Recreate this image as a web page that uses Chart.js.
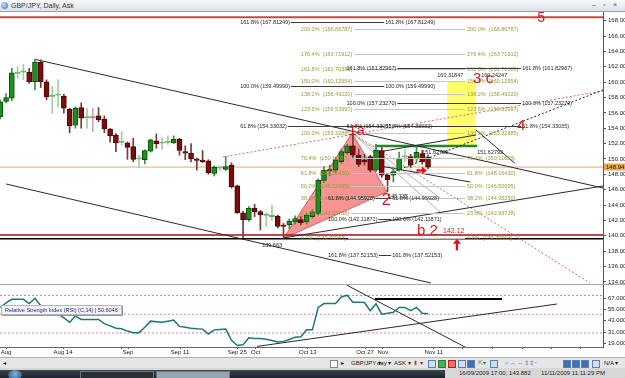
<!DOCTYPE html>
<html>
<head>
<meta charset="utf-8">
<script src="https://cdn.jsdelivr.net/npm/chart.js@4.4.0/dist/chart.umd.min.js"></script>
<style>
  body { margin: 0; background: #fff; }
  #wrap { position: relative; width: 625px; height: 378px; overflow: hidden; background: #fff; font-family: "Liberation Sans", Arial, sans-serif; }
  #titlebar { position: absolute; left: 0; top: 0; width: 625px; height: 11px; background: linear-gradient(#f8fafc, #dce1e8); border-bottom: 1px solid #9aa0a8; }
  #titlebar .icon { position: absolute; left: 1px; top: 2px; width: 7px; height: 7px; border-radius: 50%; background: radial-gradient(circle at 35% 35%, #bfe0ff, #2f74c0); }
  #titlebar .txt { position: absolute; left: 11px; top: 1px; font-size: 7px; line-height: 9px; color: #333; }
  #titlebar .btn { position: absolute; top: 0px; font-size: 7px; line-height: 9px; color: #555; }
  canvas { position: absolute; left: 0; }
  #sep { position: absolute; left: 0; top: 284px; width: 625px; height: 1px; background: #a8a8a8; }
  #rsiLabel { position: absolute; left: 1px; top: 305px; height: 8px; line-height: 8px; padding: 0 3px; font-size: 5.5px; color: #25259a; background: #f3f3f3; border: 1px solid #b5b5b5; box-shadow: 1px 1px 0 #999; white-space: nowrap; }
  #toolbar { position: absolute; left: 0; top: 357px; width: 625px; height: 11px; background: #e6e6e6; border-top: 1px solid #b0b0b0; font-size: 6px; color: #222; }
  #toolbar span { position: absolute; top: 2px; line-height: 7px; white-space: nowrap; }
  #toolbar .ic { width: 6px; height: 6px; top: 2px; border: 1px solid #5a7fb0; background: #cfe0f5; }
  #status { position: absolute; left: 0; top: 368px; width: 625px; height: 10px; background: #d7d7d7; font-size: 6px; color: #222; }
  #status .task { position: absolute; left: 0; top: 2px; width: 445px; height: 8px; background: linear-gradient(#3a4654, #1b232c); }
  #status .orb { position: absolute; left: 8px; top: 0px; width: 14px; height: 10px; border-radius: 50%; background: radial-gradient(circle at 50% 40%, #7fb2e0, #21476e); }
  #status .box { position: absolute; top: 1px; height: 6px; border: 1px solid #6b7785; }
  #status span { position: absolute; top: 2px; line-height: 7px; white-space: nowrap; }
</style>
</head>
<body>
<div id="wrap">
  <div id="titlebar">
    <div class="icon"></div>
    <div class="txt">GBP/JPY, Daily, Ask</div>
    <div class="btn" style="left:592px">–</div>
    <div class="btn" style="left:603px">▫</div>
    <div class="btn" style="left:613px">×</div>
  </div>
  <canvas id="main" width="625" height="272" style="top:12px"></canvas>
  <div id="sep"></div>
  <canvas id="rsi" width="625" height="72" style="top:285px"></canvas>
  <div id="rsiLabel">Relative Strength Index (RSI) (C,14) | 50.6046</div>
  <div id="toolbar">
    <span style="left:3px">◂</span>
    <span style="left:330px;width:6px;height:6px;background:#fff;border:1px solid #888"></span>
    <span style="left:341px">▸</span>
    <span style="left:351px">GBP/JPY ▾</span>
    <span style="left:377px">day ▾</span>
    <span style="left:394px">ASK ▾</span>
    <span style="left:413px;color:#d02020">⬍ ▾</span>
    <span class="ic" style="left:428px"></span>
    <span class="ic" style="left:438px;background:#4caf50;border-color:#2e7d32"></span>
    <span class="ic" style="left:448px;background:#e57373;border-color:#b71c1c"></span>
    <span class="ic" style="left:458px"></span>
    <span class="ic" style="left:467px;background:#3f6fb5"></span>
    <span style="left:478px;color:#2e7d32">⇱▾</span>
    <span class="ic" style="left:490px"></span>
    <span style="left:505px;color:#2a5fa8">⌕ ↔ ↔ ⇕ ⇕ ⌁</span>
    <span class="ic" style="left:563px;background:#3f6fb5"></span>
    <span class="ic" style="left:572px;background:#3f6fb5"></span>
    <span class="ic" style="left:581px;background:#3f6fb5"></span>
    <span class="ic" style="left:592px"></span>
    <span style="left:604px">N/A ▾</span>
  </div>
  <div id="status">
    <div class="task">
      <div class="orb"></div>
      <div class="box" style="left:80px;width:72px;background:#2a2f36"></div>
      <div class="box" style="left:156px;width:72px;background:#9aa4ae"></div>
    </div>
    <span style="left:459px">16/09/2009 17:00, 143.882</span>
    <span style="left:541px">11/11/2009 11:11:29 PM</span>
  </div>
</div>

<script>
// daily candles, bar 0 = Jul 30 ... bar 74 = Nov 11
const opens  = [155.5, 157.5, 157.9, 161.15, 161.3, 161.3, 160.05, 162.6, 160.05, 158.15,
                158.3, 158.2, 156.45, 154.4, 156.7, 155.35, 155.45, 155.6, 155.2, 153.9,
                153.1, 152.15, 152.1, 151.6, 150.0, 149.9, 151.0, 152.35, 152.05, 152.15,
                152.1, 152.6, 150.95, 150.75, 150.0, 149.85, 149.75, 148.1, 148.8, 148.65,
                149.2, 146.5, 143.0, 142.1, 143.6, 143.15, 142.65, 142.5, 142.55, 141.4,
                141.4, 141.8, 142.1, 141.8, 142.5, 142.9, 147.2, 148.45, 148.55, 149.65,
                150.8, 151.7, 150.5, 149.9, 150.3, 148.55, 151.1, 147.9, 147.9, 148.55,
                150.25, 150.3, 150.0, 150.7, 150.2];
const highs  = [157.7, 158.5, 161.8, 162.0, 162.3, 161.8, 163.0, 162.9, 160.3, 159.4,
                160.3, 158.4, 156.6, 156.8, 157.3, 156.6, 156.6, 156.7, 155.6, 154.0,
                153.3, 153.55, 152.2, 152.7, 150.5, 151.2, 152.6, 153.25, 152.75, 153.0,
                153.0, 152.7, 151.7, 152.0, 150.1, 151.1, 149.9, 149.1, 149.1, 150.3,
                149.5, 146.6, 143.2, 143.8, 144.1, 143.3, 143.0, 144.0, 142.7, 141.6,
                142.2, 142.6, 142.5, 142.9, 143.4, 147.4, 149.0, 149.2, 150.2, 151.3,
                151.9, 153.33, 151.3, 150.6, 150.5, 151.9, 151.5, 148.1, 148.9, 150.9,
                151.2, 150.6, 151.63, 151.1, 150.5];
const lows   = [155.2, 157.3, 157.6, 160.5, 160.3, 159.85, 159.0, 159.3, 157.7, 155.95,
                156.8, 155.95, 153.4, 154.0, 154.0, 154.0, 153.55, 154.85, 153.4, 152.2,
                150.95, 151.8, 149.95, 149.65, 148.9, 149.35, 150.9, 151.4, 151.25, 151.9,
                152.0, 150.5, 149.9, 149.6, 148.55, 149.5, 148.0, 147.8, 148.5, 148.5,
                146.2, 142.9, 139.75, 141.9, 142.5, 140.75, 141.2, 142.0, 141.0, 139.66,
                140.9, 141.5, 141.4, 141.5, 142.3, 142.7, 146.9, 147.8, 148.2, 149.4,
                150.6, 150.0, 149.0, 149.2, 148.3, 148.3, 147.6, 145.75, 147.0, 148.4,
                149.6, 148.9, 149.5, 149.3, 148.7];
const closes = [157.45, 158.0, 161.2, 161.25, 161.4, 160.05, 162.6, 160.05, 158.1, 158.25,
                158.4, 156.6, 154.3, 156.6, 155.3, 155.45, 155.35, 155.1, 153.9, 153.0,
                152.1, 152.25, 151.5, 149.95, 150.1, 151.1, 152.5, 152.0, 152.15, 152.25,
                152.55, 151.1, 150.75, 150.0, 149.8, 149.65, 148.2, 148.9, 148.9, 149.0,
                146.4, 143.0, 142.1, 143.6, 143.15, 142.7, 142.75, 142.6, 141.2, 141.2,
                141.9, 142.25, 141.7, 142.7, 143.1, 147.2, 148.55, 148.6, 149.9, 150.95,
                151.7, 150.5, 149.3, 149.6, 148.55, 151.15, 147.9, 147.3, 148.35, 150.1,
                150.35, 149.2, 150.85, 149.6, 148.94];
const rsiValues = [57.3, 62, 65.9, 65.9, 65.9, 61.4, 67, 59, 55, 53,
                   50.3, 46, 41.4, 48, 44.4, 44.4, 44.4, 44.4, 40, 37.5,
                   35.1, 34.4, 32, 30.3, 30.3, 36, 42.6, 42, 41.4, 42.5,
                   43.7, 37, 36, 35.1, 34.5, 34.1, 28.9, 33.3, 33.8, 34.1,
                   22.2, 16.6, 17.3, 24.8, 24.2, 24, 23.3, 22, 20.3, 21,
                   23, 25.5, 25.9, 33.3, 33.3, 57.3, 61.4, 61.4, 61.4, 68.4,
                   70.3, 62.9, 62.9, 62.5, 53.7, 61.1, 50, 51, 52, 57.3,
                   57.3, 53.7, 57.3, 51.1, 50.6];

const priceTicks = [134, 136, 138, 140, 142, 144, 146, 148, 150, 152, 154, 156, 158, 160, 162, 164, 166, 168];
const rsiTicks = [19, 31, 43, 55, 67];
const rsiLevels = [70, 50, 30];
const dateTickBars = [1.0, 10.85, 20.9, 22.1, 31.1, 41.0, 44.2, 53.2, 63.1, 66.2, 75.0, 80.0, 85.2, 90.3, 95.3, 100.3];
const dateTickLabels = ['Aug', 'Aug 14', '', 'Sep', 'Sep 11', 'Sep 25', 'Oct', 'Oct 13', 'Oct 27', 'Nov', 'Nov 11', '', '', '', '', ''];
const currentPrice = 148.94;

// fibonacci retracement of the 139.70 -> 153.33 swing
const fibPct = ['200.0%', '176.4%', '161.8%', '150.0%', '138.2%', '123.6%', '100.0%', '76.4%', '61.8%', '50.0%', '38.2%', '23.6%', '0.0%'];
const fibPrice = [166.86787, 163.71912, 161.70380, 160.12954, 158.49220, 156.53997, 153.32885, 150.11653, 148.16430, 146.52695, 144.95250, 142.93738, 139.70063];
const fibLeftBar = 52.0;
const fibRightBar = 80.75;

// AB=CD projections (black labels)
const abcdPct = ['161.8%', '100.0%', '61.8%'];
const abcdPrices = [
  [167.81249, 159.49990, 154.33032],
  [161.82967, 157.23270, 154.33035],
  [137.52153, 142.11871, 144.95928]
];
const abcdLeft = [41.5, 59.9, 56.7];
const abcdRight = [66.6, 90.3, 67.8];

// drawn objects: [bar1, price1, bar2, price2]
const trendLines = [
  [6.0, 162.97, 104.27, 146.22],
  [0.99, 146.74, 74.5, 133.85],
  [48.9, 139.71, 104.27, 146.48],
  [82.3, 153.77, 89.0, 149.45],
  [65.7, 149.08, 81.3, 147.0],
  [65.4, 150.9, 82.3, 153.12]
];
const fanLines = [[60.85, 153.38, 76.1, 144.9], [60.85, 153.38, 76.1, 143.08]];
const dottedBlack = [[66.6, 147.91, 104.27, 158.98]];
const dottedPink = [[38.5, 150.26, 104.27, 158.85], [60.85, 153.38, 102.0, 133.85]];
const greenLine = [64.8, 151.68, 82.5, 151.68];
const fullLines = [[168.44, '#c84848', 2], [140.10, '#a80f0f', 1.5], [139.60, '#000000', 1.5], [currentPrice, '#e2ab68', 1]];
const triangleBars = [49, 60.85, 66.9, 49];
const trianglePrices = [139.66, 153.33, 145.7, 139.66];
const boxBars = [77.3, 82.3];
const boxPrices = [151.7, 160.15];

// [text, bar, baseline price, font px]
const redLabels = [
  ['5', 92.9, 167.8, 14], ['4', 89.4, 153.77, 15], ['3 c', 81.8, 159.89, 15],
  ['1a', 60.2, 153.12, 15], ['2', 66.0, 144.0, 16], ['b 2', 72.1, 140.1, 15],
  ['142.12', 76.6, 140.36, 7]
];
const blackLabels = [
  ['139.663', 45.3, 138.79], ['151.62792', 73.0, 150.78], ['151.62792', 82.5, 150.78],
  ['160.31847', 75.6, 160.93], ['160.24247', 83.2, 160.93], ['145.735', 67.1, 145.17]
];
const upArrows = [[79.0, 139.6, 138.1]];
const rightArrows = [[72.0, 73.8, 148.5]];

const barMin = -0.05;
const barMax = 104.27;

Chart.defaults.font.family = '"Liberation Sans", Arial, sans-serif';

const isDoji = i => Math.abs(closes[i] - opens[i]) < 0.12;
const bodyFill = opens.map((o, i) => isDoji(i) ? (closes[i] >= o ? '#76b876' : '#b98080') : (closes[i] >= o ? '#1e8e1e' : '#7d0c0c'));
const bodyEdge = opens.map((o, i) => isDoji(i) ? (closes[i] >= o ? '#5aa05a' : '#a56a6a') : (closes[i] >= o ? '#0b4d0b' : '#4a0404'));
const wickColor = opens.map((o, i) => isDoji(i) ? (closes[i] >= o ? '#9fcf9f' : '#d0a8a8') : (closes[i] >= o ? '#4d8a4d' : '#7a3a3a'));

function seg(l, color, width, dash, order) {
  return {
    type: 'line',
    data: [{ x: l[0], y: l[1] }, { x: l[2], y: l[3] }],
    borderColor: color, borderWidth: width, borderDash: dash || [],
    pointRadius: 0, fill: false, order: order || 3
  };
}

const mainDatasets = [
  {
    type: 'bar', label: 'body',
    data: opens.map((o, i) => ({ x: i, y: [o, closes[i]] })),
    backgroundColor: bodyFill, borderColor: bodyEdge, borderWidth: 1, borderSkipped: false,
    barThickness: 5, minBarLength: 1.2, grouped: false, order: 1
  },
  {
    type: 'bar', label: 'wick',
    data: lows.map((l, i) => ({ x: i, y: [l, highs[i]] })),
    backgroundColor: wickColor, barThickness: 1, grouped: false, order: 2
  },
  ...fullLines.map(h => seg([barMin, h[0], barMax, h[0]], h[1], h[2], null, 4)),
  ...trendLines.map(l => seg(l, '#2a2a2a', 1)),
  ...fanLines.map(l => seg(l, '#b4b4b4', 1)),
  ...dottedBlack.map(l => seg(l, '#222', 1, [2, 2])),
  ...dottedPink.map(l => seg(l, '#d86a6a', 1, [2, 2])),
  seg(greenLine, '#24862a', 2.5, null, 3),
  {
    type: 'line', label: 'pattern',
    data: triangleBars.map((b, k) => ({ x: b, y: trianglePrices[k] })),
    borderColor: '#e25a5a', borderWidth: 1, backgroundColor: 'rgba(244,128,128,0.85)',
    fill: 'shape', pointRadius: 0, order: 8
  },
  {
    type: 'line', label: 'zone',
    data: [
      { x: boxBars[0], y: boxPrices[0] }, { x: boxBars[1], y: boxPrices[0] },
      { x: boxBars[1], y: boxPrices[1] }, { x: boxBars[0], y: boxPrices[1] },
      { x: boxBars[0], y: boxPrices[0] }
    ],
    borderColor: 'rgba(0,0,0,0)', borderWidth: 1, backgroundColor: '#ffff6e',
    fill: 'shape', pointRadius: 0, order: 9
  }
];

const mainDrawings = {
  id: 'mainDrawings',
  afterDatasetsDraw(chart) {
    const { ctx, chartArea: a, scales: { x, y } } = chart;
    ctx.save();
    ctx.beginPath();
    ctx.rect(a.left, a.top, a.right - a.left, a.bottom - a.top);
    ctx.clip();
    ctx.textBaseline = 'middle';
    ctx.textAlign = 'left';
    ctx.lineWidth = 1;

    // fib retracement
    ctx.font = '5.5px "Liberation Sans"';
    fibPct.forEach((pct, k) => {
      const py = Math.round(y.getPixelForValue(fibPrice[k])) + 0.5;
      const text = pct + '  (' + fibPrice[k].toFixed(5) + ')';
      const lx = x.getPixelForValue(fibLeftBar);
      const rx = x.getPixelForValue(fibRightBar);
      const w = ctx.measureText(text).width;
      ctx.strokeStyle = '#c4c4c4';
      ctx.beginPath(); ctx.moveTo(lx + w + 2, py); ctx.lineTo(rx - 2, py); ctx.stroke();
      ctx.fillStyle = '#9a9a3a';
      ctx.fillText(text, lx, py);
      ctx.fillText(text, rx, py);
    });

    // AB=CD levels
    abcdPrices.forEach((levels, s) => {
      levels.forEach((p, k) => {
        const py = Math.round(y.getPixelForValue(p)) + 0.5;
        const text = abcdPct[k] + ' (' + p.toFixed(5) + ')';
        const lx = x.getPixelForValue(abcdLeft[s]);
        const rx = x.getPixelForValue(abcdRight[s]);
        const w = ctx.measureText(text).width;
        ctx.strokeStyle = '#3a3a3a';
        ctx.beginPath(); ctx.moveTo(lx + w + 1, py); ctx.lineTo(rx - 1, py); ctx.stroke();
        ctx.fillStyle = '#1e1e1e';
        ctx.fillText(text, lx, py);
        ctx.fillText(text, rx, py);
      });
    });

    // value labels
    ctx.fillStyle = '#1e1e1e';
    blackLabels.forEach(([t, b, p]) => ctx.fillText(t, x.getPixelForValue(b), y.getPixelForValue(p)));

    // arrows
    ctx.fillStyle = '#e01414';
    upArrows.forEach(([b, tip, tail]) => {
      const px = x.getPixelForValue(b), ty = y.getPixelForValue(tip), by = y.getPixelForValue(tail);
      ctx.beginPath();
      ctx.moveTo(px, ty); ctx.lineTo(px + 4, ty + 5); ctx.lineTo(px - 4, ty + 5); ctx.closePath(); ctx.fill();
      ctx.fillRect(px - 1.2, ty + 4, 2.4, by - ty - 4);
    });
    rightArrows.forEach(([b0, b1, p]) => {
      const x0 = x.getPixelForValue(b0), x1 = x.getPixelForValue(b1), py = y.getPixelForValue(p);
      ctx.fillRect(x0, py - 1.2, x1 - x0 - 4, 2.4);
      ctx.beginPath();
      ctx.moveTo(x1, py); ctx.lineTo(x1 - 5, py - 4); ctx.lineTo(x1 - 5, py + 4); ctx.closePath(); ctx.fill();
    });

    // wave labels
    ctx.fillStyle = '#d41c1c';
    ctx.textBaseline = 'alphabetic';
    redLabels.forEach(([t, b, p, size]) => {
      ctx.font = size + 'px "Liberation Sans"';
      ctx.fillText(t, x.getPixelForValue(b), y.getPixelForValue(p));
    });
    ctx.restore();
  },
  afterDraw(chart) {
    const { ctx, chartArea: a, scales: { y } } = chart;
    const py = Math.round(y.getPixelForValue(currentPrice));
    ctx.save();
    ctx.fillStyle = '#f0a94e';
    ctx.fillRect(a.right + 1, py - 3.5, 21, 7);
    ctx.fillStyle = '#111';
    ctx.font = '6px "Liberation Sans"';
    ctx.textBaseline = 'middle';
    ctx.fillText(currentPrice.toFixed(2), a.right + 3, py + 0.5);
    ctx.restore();
  }
};

new Chart(document.getElementById('main'), {
  type: 'bar',
  data: { datasets: mainDatasets },
  options: {
    responsive: false, animation: false,
    layout: { padding: 0 },
    plugins: { legend: { display: false }, tooltip: { enabled: false } },
    scales: {
      x: { type: 'linear', min: barMin, max: barMax, offset: false, display: false },
      y: {
        position: 'right', min: 133.72, max: 169.13,
        afterBuildTicks: s => { s.ticks = priceTicks.map(v => ({ value: v })); },
        afterFit: s => { s.width = 22; s.paddingTop = 0; s.paddingBottom = 0; },
        ticks: { font: { size: 6 }, color: '#222', padding: 2, crossAlign: 'near', callback: v => v.toFixed(3) },
        grid: { drawOnChartArea: false, tickLength: 3, color: '#555' },
        border: { color: '#555' }
      }
    }
  },
  plugins: [mainDrawings]
});

new Chart(document.getElementById('rsi'), {
  type: 'line',
  data: {
    datasets: [
      { data: rsiValues.map((v, i) => ({ x: i, y: v })), borderColor: '#1d7873', borderWidth: 1.5, pointRadius: 0, order: 1 },
      ...rsiLevels.map(v => seg([barMin, v, barMax, v], '#d88888', 1, [2, 2], 5)),
      seg([64.8, 66.3, 86.8, 66.3], '#000', 2, null, 2),
      seg([44.4, 15.6, 96.3, 60.9], '#2a2a2a', 1, null, 3),
      seg([59.9, 81.2, 80.4, 15.0], '#2a2a2a', 1, null, 3)
    ]
  },
  options: {
    responsive: false, animation: false,
    layout: { padding: 0 },
    plugins: { legend: { display: false }, tooltip: { enabled: false } },
    scales: {
      x: {
        type: 'linear', min: barMin, max: barMax, offset: false,
        afterBuildTicks: s => { s.ticks = dateTickBars.map(v => ({ value: v })); },
        afterFit: s => { s.height = 10; s.paddingLeft = 0; s.paddingRight = 0; },
        ticks: { autoSkip: false, maxRotation: 0, font: { size: 6 }, color: '#222', padding: 0,
                 callback: (v, i) => dateTickLabels[i] },
        grid: { drawOnChartArea: false, tickLength: 2, color: '#555' },
        border: { color: '#666' }
      },
      y: {
        position: 'right', min: 15.0, max: 81.2,
        afterBuildTicks: s => { s.ticks = rsiTicks.map(v => ({ value: v })); },
        afterFit: s => { s.width = 22; s.paddingTop = 0; s.paddingBottom = 0; },
        ticks: { font: { size: 6 }, color: '#222', padding: 2, crossAlign: 'near', callback: v => v.toFixed(4) },
        grid: { drawOnChartArea: false, tickLength: 3, color: '#555' },
        border: { color: '#555' }
      }
    }
  }
});
</script>
</body>
</html>
